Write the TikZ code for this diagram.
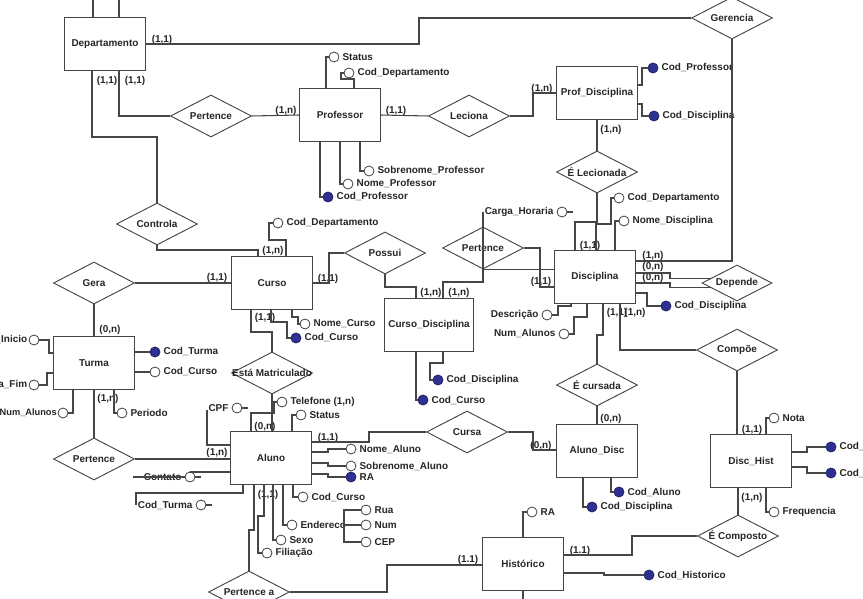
\documentclass[tikz,border=0pt]{standalone}
\usepackage{fontspec}
\setmainfont{Liberation Sans}
\usetikzlibrary{shapes.geometric}
\definecolor{keyblue}{RGB}{46,49,146}
\definecolor{lnk}{RGB}{70,70,70}

\begin{document}
\begin{tikzpicture}[x=0.03cm, y=-0.03cm,
  every node/.style = {font=\bfseries\fontsize{8.5}{10}\selectfont, text=black!85},
  ent/.style  = {draw=lnk, line width=0.9pt, rectangle, fill=white,
    minimum width=2.43cm, minimum height=1.59cm},
  rel/.style  = {draw=lnk, line width=0.8pt, diamond, fill=white, inner sep=0pt,
    minimum width=2.43cm, minimum height=1.26cm},
  att/.style  = {draw=lnk, line width=0.7pt, circle, fill=white, inner sep=0pt,
    minimum size=0.3cm},
  key/.style  = {att, fill=keyblue, draw=keyblue!70!black},
  lbl/.style  = {inner sep=2.5pt},
  card/.style = {inner sep=0pt},
  link/.style = {draw=lnk, line width=0.9pt}]

\path[use as bounding box, fill=white] (0,0) rectangle (863,599);

% entidades
\node[ent] (dep)       at (105,44)  {Departamento};
\node[ent] (prof)      at (340,115) {Professor};
\node[ent] (profdisc)  at (597,93)  {Prof\_Disciplina};
\node[ent] (curso)     at (272,283) {Curso};
\node[ent] (cursodisc) at (429,325) {Curso\_Disciplina};
\node[ent] (disc)      at (595,277) {Disciplina};
\node[ent] (turma)     at (94,363)  {Turma};
\node[ent] (aluno)     at (271,458) {Aluno};
\node[ent] (alunodisc) at (597,451) {Aluno\_Disc};
\node[ent] (dischist)  at (751,461) {Disc\_Hist};
\node[ent] (hist)      at (523,564) {Histórico};

% relacionamentos
\node[rel, label=center:Gerencia]         (gerencia) at (732,18)  {};
\node[rel, label=center:Pertence]         (pert1)    at (211,116) {};
\node[rel, label=center:Leciona]          (leciona)  at (469,116) {};
\node[rel, label=center:É Lecionada]      (elec)     at (597,172) {};
\node[rel, label=center:Controla]         (controla) at (157,224) {};
\node[rel, label=center:Possui]           (possui)   at (385,253) {};
\node[rel, label=center:Pertence]         (pert2)    at (483,248) {};
\node[rel, label=center:Depende, minimum width=2.1cm, minimum height=1.08cm]
                                          (depende)  at (737,283) {};
\node[rel, label=center:Gera]             (gera)     at (94,283)  {};
\node[rel, label=center:Está Matriculado] (matric)   at (272,373) {};
\node[rel, label=center:Compõe]           (compoe)   at (737,350) {};
\node[rel, label=center:É cursada]        (ecurs)    at (597,385) {};
\node[rel, label=center:Cursa]            (cursa)    at (467,432) {};
\node[rel, label=center:Pertence]         (pert3)    at (94,459)  {};
\node[rel, label=center:Pertence a]       (pertA)    at (249,592) {};
\node[rel, label=center:É Composto]       (ecomp)    at (738,536) {};

% atributos
\node[att, label={[lbl]right:Status}]              (a_pstatus) at (334,57)  {};
\node[att, label={[lbl]right:Cod\_Departamento}]   (a_pcoddep) at (349,73)  {};
\node[att, label={[lbl]right:Sobrenome\_Professor}] (a_psobre) at (369,171) {};
\node[att, label={[lbl]right:Nome\_Professor}]     (a_pnome)   at (348,184) {};
\node[key, label={[lbl]right:Cod\_Professor}]      (k_pcod)    at (328,197) {};
\node[key, label={[lbl]right:Cod\_Professor}]      (k_pdprof)  at (653,68)  {};
\node[key, label={[lbl]right:Cod\_Disciplina}]     (k_pddisc)  at (654,116) {};
\node[att, label={[lbl]right:Cod\_Departamento}]   (a_dcoddep) at (619,198) {};
\node[att, label={[lbl]right:Nome\_Disciplina}]    (a_dnome)   at (624,221) {};
\node[att, label={[lbl]left:Carga\_Horaria}]       (a_carga)   at (562,212) {};
\node[att, label={[lbl]left:Descrição}]            (a_desc)    at (547,315) {};
\node[att, label={[lbl]left:Num\_Alunos}]          (a_dnum)    at (564,334) {};
\node[key, label={[lbl]right:Cod\_Disciplina}]     (k_dcod)    at (666,306) {};
\node[att, label={[lbl]right:Cod\_Departamento}]   (a_ccoddep) at (278,223) {};
\node[att, label={[lbl]right:Nome\_Curso}]         (a_cnome)   at (305,324) {};
\node[key, label={[lbl]right:Cod\_Curso}]          (k_ccod)    at (296,338) {};
\node[key, label={[lbl]right:Cod\_Disciplina}]     (k_cddisc)  at (438,380) {};
\node[key, label={[lbl]right:Cod\_Curso}]          (k_cdcurso) at (423,400) {};
\node[att, label={[lbl, inner sep=1pt]left:Data\_Inicio}] (a_tini) at (34,340)  {};
\node[att, label={[lbl, inner sep=1pt]left:Data\_Fim}]    (a_tfim) at (34,385)  {};
\node[att, label={[lbl, inner sep=0.5pt, font=\bfseries\fontsize{7.9}{10}\selectfont]left:Num\_Alunos}]
                                                   (a_tnum)    at (63,413)  {};
\node[att, label={[lbl]right:Periodo}]             (a_tper)    at (122,413) {};
\node[key, label={[lbl]right:Cod\_Turma}]          (k_tcod)    at (155,352) {};
\node[att, label={[lbl]right:Cod\_Curso}]          (a_tcurso)  at (155,372) {};
\node[att, label={[lbl]right:Telefone (1,n)}]      (a_tel)     at (282,402) {};
\node[att, label={[lbl]right:Status}]              (a_astatus) at (301,415) {};
\node[att, label={[lbl]left:CPF}]                  (a_cpf)     at (237,408) {};
\node[att, label={[lbl]left:Contato}]              (a_contato) at (190,477) {};
\node[att, label={[lbl]left:Cod\_Turma}]           (a_aturma)  at (201,505) {};
\node[att, label={[lbl]right:Nome\_Aluno}]         (a_anome)   at (351,449) {};
\node[att, label={[lbl]right:Sobrenome\_Aluno}]    (a_asobre)  at (351,466) {};
\node[key, label={[lbl]right:RA}]                  (k_ra)      at (351,477) {};
\node[att, label={[lbl]right:Cod\_Curso}]          (a_acurso)  at (303,497) {};
\node[att, label={[lbl]right:Endereco}]            (a_end)     at (292,525) {};
\node[att, label={[lbl]right:Rua}]                 (a_rua)     at (366,510) {};
\node[att, label={[lbl]right:Num}]                 (a_num)     at (366,525) {};
\node[att, label={[lbl]right:CEP}]                 (a_cep)     at (366,542) {};
\node[att, label={[lbl]right:Sexo}]                (a_sexo)    at (281,540) {};
\node[att, label={[lbl]right:Filiação}]            (a_filia)   at (267,553) {};
\node[key, label={[lbl]right:Cod\_Aluno}]          (k_adal)    at (619,492) {};
\node[key, label={[lbl]right:Cod\_Disciplina}]     (k_addisc)  at (592,507) {};
\node[att, label={[lbl]right:Nota}]                (a_nota)    at (774,418) {};
\node[key, label={[lbl]right:Cod\_Disciplina}]     (k_dh1)     at (831,447) {};
\node[key, label={[lbl]right:Cod\_Historico}]      (k_dh2)     at (831,473) {};
\node[att, label={[lbl]right:Frequencia}]          (a_freq)    at (774,512) {};
\node[att, label={[lbl]right:RA}]                  (a_hra)     at (532,512) {};
\node[key, label={[lbl]right:Cod\_Historico}]      (k_hcod)    at (649,575) {};
\coordinate (endj) at (344,525);

% cardinalidades
\node[card] (c_dep_e)   at (162,40)  {(1,1)};
\node[card] (c_dep_s1)  at (107,81)  {(1,1)};
\node[card] (c_dep_s2)  at (135,81)  {(1,1)};
\node[card] (c_prof_w)  at (286,111) {(1,n)};
\node[card] (c_prof_e)  at (396,111) {(1,1)};
\node[card] (c_pd_w)    at (542,89)  {(1,n)};
\node[card] (c_pd_s)    at (611,130) {(1,n)};
\node[card] (c_disc_n)  at (590,246) {(1,1)};
\node[card] (c_disc_w)  at (541,282) {(1,1)};
\node[card] (c_disc_e1) at (653,256) {(1,n)};
\node[card] (c_disc_e2) at (653,267) {(0,n)};
\node[card] (c_disc_e3) at (653,278) {(0,n)};
\node[card] (c_disc_s1) at (617,313) {(1,1)};
\node[card] (c_disc_s2) at (635,313) {(1,n)};
\node[card] (c_curso_n) at (273,251) {(1,n)};
\node[card] (c_curso_w) at (217,278) {(1,1)};
\node[card] (c_curso_e) at (328,279) {(1,1)};
\node[card] (c_curso_s) at (265,318) {(1,1)};
\node[card] (c_cd_1)    at (431,293) {(1,n)};
\node[card] (c_cd_2)    at (459,293) {(1,n)};
\node[card] (c_turma_n) at (110,330) {(0,n)};
\node[card] (c_turma_s) at (108,399) {(1,n)};
\node[card] (c_aluno_n) at (265,427) {(0,n)};
\node[card] (c_aluno_w) at (217,453) {(1,n)};
\node[card] (c_aluno_e) at (328,438) {(1,1)};
\node[card] (c_aluno_s) at (268,495) {(1,1)};
\node[card] (c_ad_w)    at (541,446) {(0,n)};
\node[card] (c_ad_n)    at (611,419) {(0,n)};
\node[card] (c_dh_n)    at (752,430) {(1,1)};
\node[card] (c_dh_s)    at (752,498) {(1,n)};
\node[card] (c_hist_e)  at (580,551) {(1.1)};
\node[card] (c_hist_w)  at (468,560) {(1.1)};

% ligacoes
\draw[link] (93,0 |- dep.north) -- (93,-2);
\draw[link] (119,0 |- dep.north) -- (119,-2);
\draw[link] (dep.east) -- (419,44) |- (gerencia.west);
\draw[link] (gerencia.south) |- (disc.east |- 0,261);
\draw[link] (119,0 |- dep.south) |- (pert1.west);
\draw[link] (pert1.east) -- (prof.west);
\draw[link] (92,0 |- dep.south) |- (157,137) -- (controla.north);
\draw[link] (controla.south) |- (258,250) -- (258,0 |- curso.north);
\draw[link] (prof.east) -- (leciona.west);
\draw[link] (leciona.east) -- (533,116) |- (profdisc.west);
\draw[link] (326,0 |- prof.north) |- (a_pstatus);
\draw[link] (354,0 |- prof.north) -- (354,79) -- (341,79) |- (a_pcoddep);
\draw[link] (360,0 |- prof.south) |- (a_psobre);
\draw[link] (340,0 |- prof.south) |- (a_pnome);
\draw[link] (320,0 |- prof.south) |- (k_pcod);
\draw[link] (profdisc.east |- 0,85) -- (642,85) |- (k_pdprof);
\draw[link] (profdisc.east |- 0,104) -- (642,104) |- (k_pddisc);
\draw[link] (profdisc.south) -- (elec.north);
\draw[link] (elec.south) |- (575,222) -- (575,0 |- disc.north);
\draw[link] (596,0 |- disc.north) |- (611,224) |- (a_dcoddep);
\draw[link] (615,0 |- disc.north) |- (a_dnome);
\draw[link] (443,0 |- cursodisc.north) |- (483,282) -- (483,212);
\draw[link] (a_carga.east) -- ++(6,0);
\draw[link] (pert2.south) -- (disc.west |- pert2.south);
\draw[link] (pert2.east) -- (540,248) |- (disc.west |- 0,287);
\draw[link] (416,0 |- cursodisc.north) |- (385,287) -- (possui.south);
\draw[link] (possui.west) -| (329,283) -- (curso.east |- 0,283);
\draw[link] (disc.east |- 0,273) -- (670,273) |- (depende.170);
\draw[link] (disc.east |- 0,283) -- (670,283) |- (depende.190);
\draw[link] (disc.east |- 0,293) -| (647,306) -- (k_dcod);
\draw[link] (a_desc) -| (558,306) -| (571,0 |- disc.south);
\draw[link] (a_dnum) -| (574,317) -| (587,0 |- disc.south);
\draw[link] (603,0 |- disc.south) |- (597,335) -- (ecurs.north);
\draw[link] (620,0 |- disc.south) |- (compoe.west);
\draw[link] (compoe.south) -- (compoe.south |- dischist.north);
\draw[link] (286,0 |- curso.north) |- (269,240) |- (a_ccoddep);
\draw[link] (gera.east) -- (curso.west);
\draw[link] (gera.south) -- (turma.north);
\draw[link] (292,0 |- curso.south) |- (298,317) |- (a_cnome);
\draw[link] (271,0 |- curso.south) |- (287,322) |- (k_ccod);
\draw[link] (251,0 |- curso.south) |- (272,332) -- (matric.north);
\draw[link] (matric.south) -- (matric.south |- aluno.north);
\draw[link] (443,0 |- cursodisc.south) |- (430,363) |- (k_cddisc);
\draw[link] (416,0 |- cursodisc.south) |- (k_cdcurso);
\draw[link] (a_tini) -| (49,353) -- (turma.west |- 0,353);
\draw[link] (a_tfim) -| (47,373) -- (turma.west |- 0,373);
\draw[link] (73,0 |- turma.south) |- (a_tnum);
\draw[link] (114,0 |- turma.south) |- (a_tper);
\draw[link] (turma.east |- k_tcod) -- (k_tcod);
\draw[link] (turma.east |- a_tcurso) -- (a_tcurso);
\draw[link] (pert3.north) -- (turma.south);
\draw[link] (pert3.east) -- (aluno.west |- pert3.east);
\draw[link] (251,0 |- aluno.north) |- (274,413) |- (a_tel);
\draw[link] (292,0 |- aluno.north) |- (a_astatus);
\draw[link] (aluno.west |- 0,445) -| (207,410);
\draw[link] (a_cpf.east) -- ++(6,0);
\draw[link] (aluno.west |- 0,472) -| (a_contato.north);
\draw[link] (a_contato.east) -- ++(6,0);
\draw[link] (a_contato.west) -- ++(-52,0);
\draw[link] (243,0 |- aluno.south) |- (136,493) -- (136,505);
\draw[link] (a_aturma.east) -- ++(6,0);
\draw[link] (aluno.east |- 0,442) -- (369,442) |- (cursa.west);
\draw[link] (cursa.east) -| (533,450) -- (alunodisc.west |- 0,450);
\draw[link] (aluno.east |- 0,452) -| (328,449) -- (a_anome);
\draw[link] (aluno.east |- 0,463) -| (328,466) -- (a_asobre);
\draw[link] (aluno.east |- 0,474) -| (328,477) -- (k_ra);
\draw[link] (293,0 |- aluno.south) |- (a_acurso);
\draw[link] (283,0 |- aluno.south) |- (a_end);
\draw[link] (endj) |- (a_rua);
\draw[link] (endj) -- (a_num);
\draw[link] (endj) |- (a_cep);
\fill[lnk] (endj) circle (1.6);
\draw[link] (273,0 |- aluno.south) |- (a_sexo);
\draw[link] (264,0 |- aluno.south) |- (258,516) |- (a_filia);
\draw[link] (254,0 |- aluno.south) |- (249,530) -- (pertA.north);
\draw[link] (pertA.east) -| (387,565) -- (hist.west |- 0,565);
\draw[link] (ecurs.south) -- (alunodisc.north);
\draw[link] (611,0 |- alunodisc.south) |- (k_adal);
\draw[link] (583,0 |- alunodisc.south) |- (k_addisc);
\draw[link] (766,0 |- dischist.north) |- (a_nota);
\draw[link] (dischist.east |- 0,452) -| (807,447) -- (k_dh1);
\draw[link] (dischist.east |- 0,467) -| (807,473) -- (k_dh2);
\draw[link] (766,0 |- dischist.south) |- (a_freq);
\draw[link] (ecomp.north |- dischist.south) -- (ecomp.north);
\draw[link] (ecomp.west) -| (632,555) -- (hist.east |- 0,555);
\draw[link] (523,0 |- hist.north) |- (a_hra);
\draw[link] (hist.south) -- (523,605);
\draw[link] (hist.east |- 0,573) -- (604,573) |- (k_hcod);
\end{tikzpicture}
\end{document}
